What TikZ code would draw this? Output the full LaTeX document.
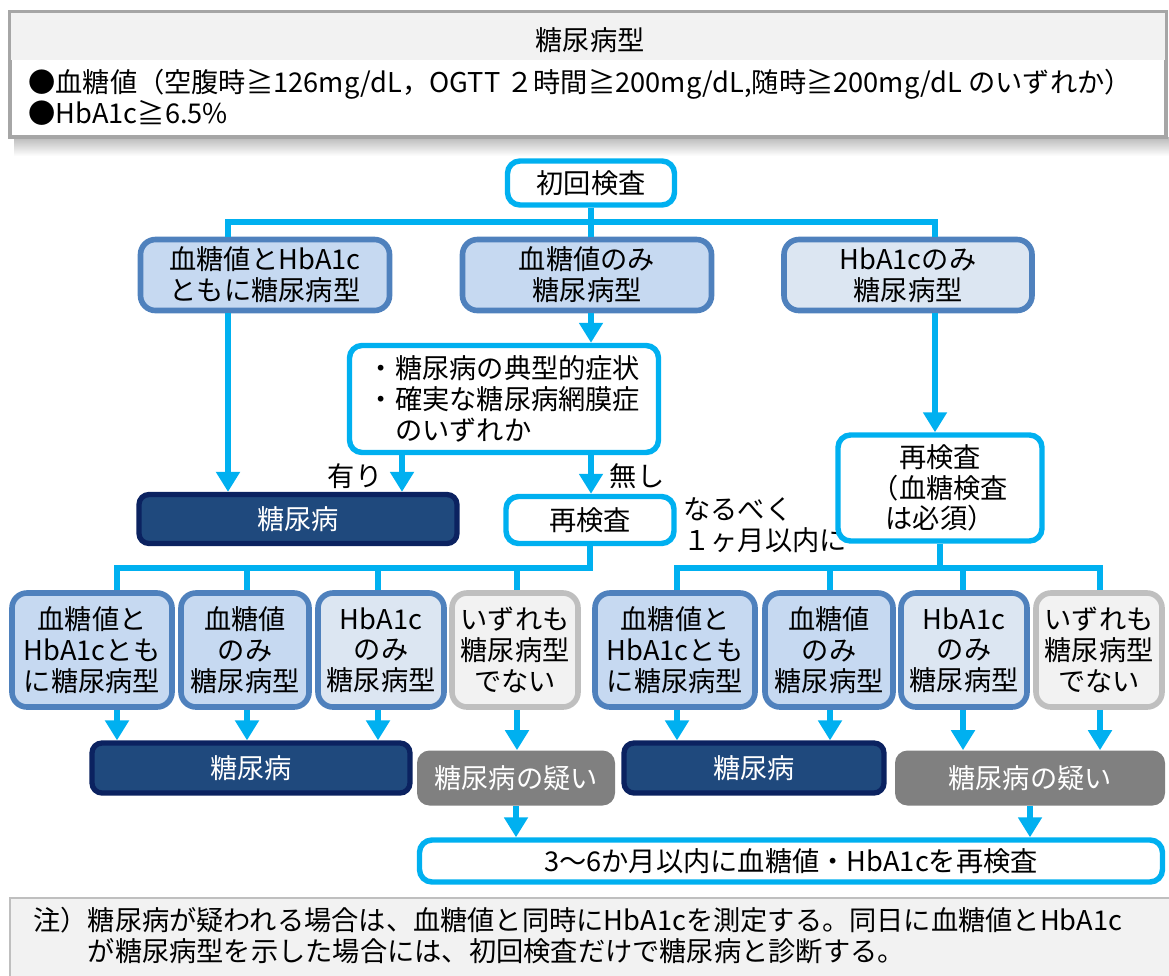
\documentclass[tikz,border=0pt]{standalone}
\usepackage{fontspec}
\setmainfont{Noto Sans CJK JP}
\usetikzlibrary{arrows.meta}

\definecolor{skyline}{HTML}{00B0F0}
\definecolor{boxedge}{HTML}{4F81BD}
\definecolor{boxfill}{HTML}{C6D9F1}
\definecolor{boxpale}{HTML}{DCE6F2}
\definecolor{navyfill}{HTML}{1F497D}
\definecolor{navyedge}{HTML}{0B2260}
\definecolor{greyfill}{HTML}{808080}
\definecolor{paleedge}{HTML}{BFBFBF}
\definecolor{palefill}{HTML}{F2F2F2}

\tikzset{
  every node/.style={font=\fontsize{15.5}{17.5}\selectfont, inner sep=0pt},
  dims/.style 2 args={minimum width=#1*0.02cm, minimum height=#2*0.02cm},
  cyanbox/.style={draw=skyline, line width=3.1pt, fill=white, rounded corners=0.25cm, align=center},
  typebox/.style={draw=boxedge, line width=3.2pt, fill=boxfill, rounded corners=0.3cm, align=center},
  palebox/.style={typebox, fill=boxpale},
  nonebox/.style={typebox, draw=paleedge, fill=palefill},
  dmbox/.style={draw=navyedge, line width=3pt, fill=navyfill, rounded corners=0.2cm, text=white},
  susbox/.style={fill=greyfill, rounded corners=0.25cm, text=white},
  line/.style={draw=skyline, line width=3.1pt},
  arr/.style={line, -{Triangle[width=0.46cm,length=0.4cm]}}
}

\begin{document}
\begin{tikzpicture}[x=0.02cm, y=-0.02cm]
\useasboundingbox (0,0) rectangle (1169,975);

% criteria header
\shade[top color=gray!55, bottom color=white] (14,137) rectangle (1169,156);
\draw[gray!70, line width=2.2pt, fill=white] (10,12) rectangle (1166,137);
\fill[palefill] (11,13) rectangle (1165,60);
\node (kind) at (590,40) {糖尿病型};
\node[anchor=west] (crit1) at (28,84) {●血糖値（空腹時≧126mg/dL，OGTT ２時間≧200mg/dL,随時≧200mg/dL のいずれか）};
\node[anchor=west] (crit2) at (28,113) {●HbA1c≧6.5\%};

% first test
\node[cyanbox, dims={167}{44}] (init) at (591,183) {初回検査};
\node[typebox, dims={249}{71}] (both) at (265,275) {血糖値とHbA1c\\ともに糖尿病型};
\node[typebox, dims={249}{71}] (bgonly) at (587,275) {血糖値のみ\\糖尿病型};
\node[palebox, dims={248}{71}] (aonly) at (908,275) {HbA1cのみ\\糖尿病型};
\node[cyanbox, dims={309}{107}, align=left] (cond) at (504,399) {・糖尿病の典型的症状\\・確実な糖尿病網膜症\\　のいずれか};
\node[dmbox, dims={318}{49}] (dm) at (298,519) {糖尿病};
\node[cyanbox, dims={168}{47}] (re1) at (590,520) {再検査};
\node[anchor=west, align=left] (soon) at (683,525) {なるべく\\１ヶ月以内に};
\node[cyanbox, dims={204}{106}] (re2) at (940,488) {再検査\\（血糖検査\\は必須）};
\node (yes) at (355,476) {有り};
\node (no) at (637,476) {無し};

% retest results
\node[typebox, dims={160}{114}] (l1) at (92,650) {血糖値と\\HbA1cとも\\に糖尿病型};
\node[typebox, dims={128}{114}] (l2) at (245,650) {血糖値\\のみ\\糖尿病型};
\node[palebox, dims={126}{114}] (l3) at (381,650) {HbA1c\\のみ\\糖尿病型};
\node[nonebox, dims={126}{114}] (l4) at (515,650) {いずれも\\糖尿病型\\でない};
\node[typebox, dims={160}{114}] (r1) at (675,650) {血糖値と\\HbA1cとも\\に糖尿病型};
\node[typebox, dims={128}{114}] (r2) at (829,650) {血糖値\\のみ\\糖尿病型};
\node[palebox, dims={126}{114}] (r3) at (964,650) {HbA1c\\のみ\\糖尿病型};
\node[nonebox, dims={126}{114}] (r4) at (1099,650) {いずれも\\糖尿病型\\でない};

\node[dmbox, dims={318}{50}] (dmL) at (251,768) {糖尿病};
\node[susbox, dims={198}{55}] (susL) at (516,778) {糖尿病の疑い};
\node[dmbox, dims={260}{50}] (dmR) at (754,768) {糖尿病};
\node[susbox, dims={270}{55}] (susR) at (1030,778) {糖尿病の疑い};
\node[cyanbox, dims={743}{42}] (final) at (791,861) {3〜6か月以内に血糖値・HbA1cを再検査};

% note
\draw[paleedge, line width=1.5pt, fill=palefill] (10,898) rectangle (1180,990);
\node[anchor=west, align=left] (note) at (33,936) {注）糖尿病が疑われる場合は、血糖値と同時にHbA1cを測定する。同日に血糖値とHbA1c\\\phantom{注）}が糖尿病型を示した場合には、初回検査だけで糖尿病と診断する。};

% connectors
\coordinate (jl) at (228,222);
\coordinate (jr) at (935,222);
\coordinate (pick) at (402,455);
\draw[line] (jl |- both.north) -- (jl) -- (jr) -- (jr |- aonly.north);
\draw[line] (init.south) -- (init.south |- bgonly.north);
\draw[arr] (init.south |- bgonly.south) -- (init.south |- cond.north);
\draw[arr] (jl |- both.south) -- (jl |- dm.north);
\draw[arr] (pick |- cond.south) -- (pick |- dm.north);
\draw[arr] (init.south |- cond.south) -- (init.south |- re1.north);
\draw[arr] (jr |- aonly.south) -- (jr |- re2.north);

\foreach \n/\x in {cL1/117, cL2/247, cL3/378, cL4/517, cR1/677, cR2/830, cR3/963, cR4/1100}
  \coordinate (\n) at (\x,568);
\draw[line] (cL1 |- l1.north) -- (cL1) -| (re1.south);
\draw[line] (cR1 |- r1.north) -- (cR1) -- (cR4) -- (cR4 |- r4.north);
\draw[line] (re2.south) -- (re2.south |- cR1);
\foreach \c/\b in {cL2/l2, cL3/l3, cL4/l4, cR2/r2, cR3/r3}
  \draw[line] (\c) -- (\c |- \b.north);
\foreach \c/\b/\t in {cL1/l1/dmL, cL2/l2/dmL, cL3/l3/dmL, cL4/l4/susL, cR1/r1/dmR, cR2/r2/dmR, cR3/r3/susR, cR4/r4/susR}
  \draw[arr] (\c |- \b.south) -- (\c |- \t.north);
\draw[arr] (susL.south) -- (susL.south |- final.north);
\draw[arr] (susR.south) -- (susR.south |- final.north);
\end{tikzpicture}
\end{document}
